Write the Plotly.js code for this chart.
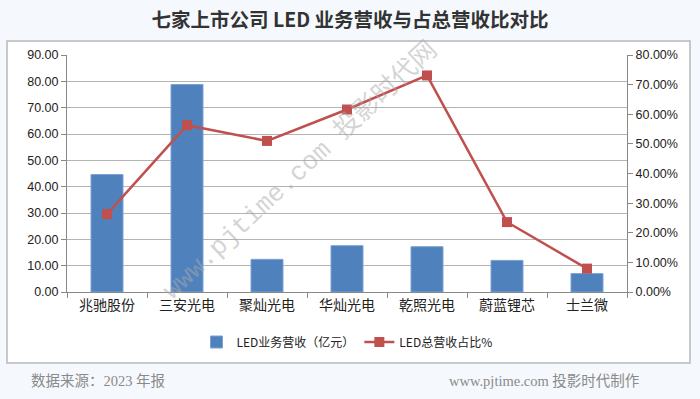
<!DOCTYPE html>
<html>
<head>
<meta charset="utf-8">
<script src="https://cdn.plot.ly/plotly-3.0.1.min.js"></script>
<style>
  html, body { margin: 0; padding: 0; background: #f5f9fd; }
  #chart { width: 700px; height: 399px; }
</style>
</head>
<body>
<div id="chart"></div>
<script>
const categories = ["兆驰股份", "三安光电", "聚灿光电", "华灿光电", "乾照光电", "蔚蓝锂芯", "士兰微"];
const revenue = [44.6, 78.8, 12.4, 17.6, 17.2, 12.0, 7.0];          // 亿元
const share = [26.3, 56.3, 51.0, 61.6, 73.1, 23.6, 7.9];             // %
const leftTicks = [0, 10, 20, 30, 40, 50, 60, 70, 80, 90];
const rightTicks = [0, 10, 20, 30, 40, 50, 60, 70, 80];
const leftTickText = leftTicks.map(v => v.toFixed(2));
const rightTickText = rightTicks.map(v => v.toFixed(2) + '%');

const cjk = '"Noto Sans CJK SC", "Microsoft YaHei", sans-serif';
const num = '"Liberation Sans", Arial, sans-serif';

const traces = [
  {
    type: 'bar',
    name: 'LED业务营收（亿元）',
    x: categories,
    y: revenue,
    marker: { color: '#4f81bd', line: { color: '#7aa3d4', width: 1 } },
    hoverinfo: 'x+y'
  },
  {
    type: 'scatter',
    mode: 'lines+markers',
    name: 'LED总营收占比%',
    x: categories,
    y: share,
    yaxis: 'y2',
    line: { color: '#c0504d', width: 2.5 },
    marker: { color: '#c0504d', symbol: 'square', size: 10 },
    hoverinfo: 'x+y'
  }
];

const layout = {
  width: 700,
  height: 399,
  margin: { l: 67, r: 73, t: 55, b: 107 },
  paper_bgcolor: '#f5f9fd',
  plot_bgcolor: '#ffffff',
  title: {
    text: '<b>七家上市公司 LED 业务营收与占总营收比对比</b>',
    font: { family: cjk, size: 19.5, color: '#333333' },
    x: 0.5, xanchor: 'center',
    y: 1 - 20 / 399, yanchor: 'middle', yref: 'container'
  },
  bargap: 0.6,
  xaxis: {
    type: 'category',
    tickson: 'boundaries',
    ticks: 'outside',
    ticklen: 5,
    tickcolor: '#888888',
    showline: true,
    linecolor: '#888888',
    linewidth: 1,
    showgrid: false,
    tickfont: { family: cjk, size: 14, color: '#222222' },
    fixedrange: true
  },
  yaxis: {
    range: [0, 90],
    tickmode: 'array',
    tickvals: leftTicks,
    ticktext: leftTickText,
    ticks: 'outside',
    ticklen: 5,
    tickcolor: '#888888',
    showline: true,
    linecolor: '#888888',
    linewidth: 1,
    showgrid: true,
    gridcolor: '#b4b4b4',
    gridwidth: 1,
    zeroline: false,
    tickfont: { family: num, size: 12.5, color: '#222222' },
    fixedrange: true
  },
  yaxis2: {
    overlaying: 'y',
    side: 'right',
    range: [0, 80],
    tickmode: 'array',
    tickvals: rightTicks,
    ticktext: rightTickText,
    ticks: 'outside',
    ticklen: 5,
    tickcolor: '#888888',
    showline: true,
    linecolor: '#888888',
    linewidth: 1,
    showgrid: false,
    zeroline: false,
    tickfont: { family: num, size: 12.5, color: '#222222' },
    fixedrange: true
  },
  showlegend: true,
  legend: {
    orientation: 'h',
    x: 0.5, xanchor: 'center',
    y: -50 / 237, yanchor: 'middle',
    font: { family: cjk, size: 12, color: '#222222' },
    bgcolor: 'rgba(0,0,0,0)',
    itemwidth: 30,
    tracegroupgap: 0
  },
  shapes: [
    {
      type: 'rect', xref: 'paper', yref: 'paper', layer: 'below',
      x0: (7 - 67) / 560, x1: (690 - 67) / 560,
      y0: (292 - 363) / 237, y1: (292 - 41) / 237,
      fillcolor: '#ffffff', line: { color: '#b8b8b8', width: 1.5 }
    }
  ],
  annotations: [
    {
      text: 'www.pjtime.com 投影时代网',
      xref: 'paper', yref: 'paper',
      x: (300 - 67) / 560, y: (292 - 170) / 237,
      xanchor: 'center', yanchor: 'middle',
      textangle: -43,
      showarrow: false,
      font: { family: '"Liberation Mono", "Noto Sans CJK SC", monospace', size: 26, color: 'rgba(170,170,170,0.5)' }
    },
    {
      text: '数据来源：2023 年报',
      xref: 'paper', yref: 'paper',
      x: (29 - 67) / 560, y: (292 - 381) / 237,
      xanchor: 'left', yanchor: 'middle',
      showarrow: false,
      font: { family: '"Liberation Serif", "Noto Sans CJK SC", serif', size: 14.5, color: '#8a8a8a' }
    },
    {
      text: 'www.pjtime.com 投影时代制作',
      xref: 'paper', yref: 'paper',
      x: (641 - 67) / 560, y: (292 - 381) / 237,
      xanchor: 'right', yanchor: 'middle',
      showarrow: false,
      font: { family: '"Liberation Serif", "Noto Sans CJK SC", serif', size: 14.5, color: '#8a8a8a' }
    }
  ]
};

Plotly.newPlot('chart', traces, layout, { displayModeBar: false, staticPlot: true });
</script>
</body>
</html>
